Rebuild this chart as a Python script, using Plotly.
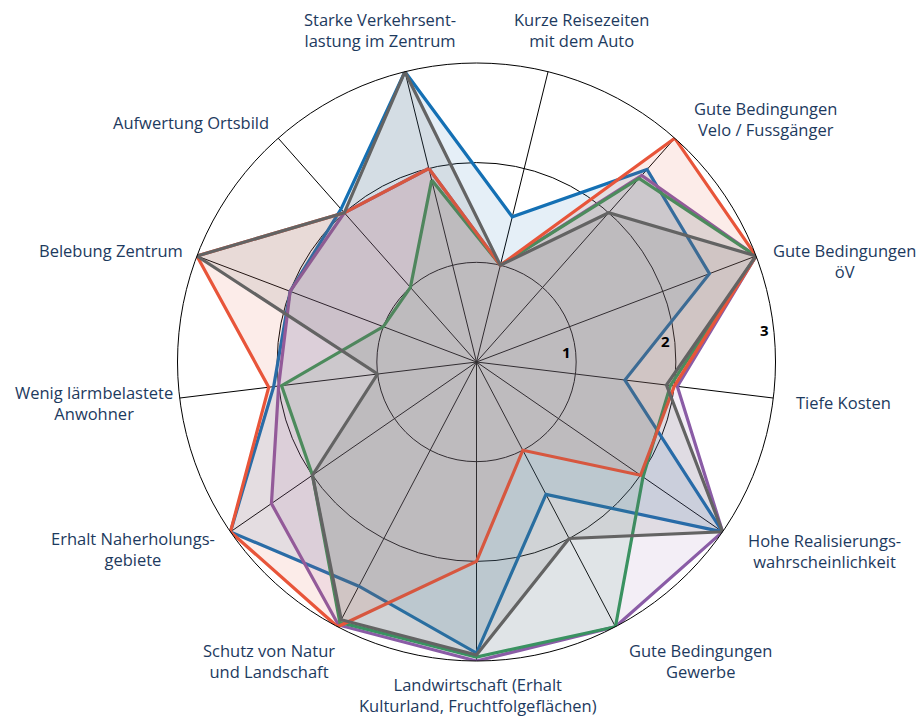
import math
import plotly.graph_objects as go

categories = [
    "Starke Verkehrsent-<br>lastung im Zentrum",
    "Kurze Reisezeiten<br>mit dem Auto",
    "Gute Bedingungen<br>Velo / Fussgänger",
    "Gute Bedingungen<br>öV",
    "Tiefe Kosten",
    "Hohe Realisierungs-<br>wahrscheinlichkeit",
    "Gute Bedingungen<br>Gewerbe",
    "Landwirtschaft (Erhalt<br>Kulturland, Fruchtfolgeflächen)",
    "Schutz von Natur<br>und Landschaft",
    "Erhalt Naherholungs-<br>gebiete",
    "Wenig lärmbelastete<br>Anwohner",
    "Belebung Zentrum",
    "Aufwertung Ortsbild",
]

variant_blue = [3.0, 1.5, 2.58, 2.5, 1.5, 3.0, 1.5, 2.92, 2.54, 3.0, 2.05, 2.0, 2.05]
variant_purple = [2.0, 1.0, 2.5, 3.0, 2.03, 3.0, 3.0, 3.0, 2.98, 2.5, 2.0, 2.0, 2.0]
variant_green = [1.88, 1.0, 2.46, 3.0, 1.96, 2.03, 3.0, 2.96, 2.95, 2.0, 1.97, 1.0, 1.0]
variant_orange = [2.0, 1.0, 3.0, 3.0, 2.0, 2.0, 1.0, 2.0, 3.0, 3.0, 2.1, 3.0, 2.0]
variant_gray = [3.0, 1.0, 2.0, 3.0, 1.92, 3.0, 2.0, 2.94, 2.92, 2.0, 1.0, 3.0, 2.0]

radial_ticks = [1, 2, 3]
radial_ticktext = ["1", "2", "3"]
radial_max = 3

series = [
    ("blue", variant_blue, "#1470b4", "rgba(20,112,180,0.11)"),
    ("purple", variant_purple, "#8a5ca6", "rgba(138,92,166,0.10)"),
    ("green", variant_green, "#3a9261", "rgba(58,146,97,0.10)"),
    ("orange", variant_orange, "#e8553a", "rgba(232,85,58,0.11)"),
    ("gray", variant_gray, "#636363", "rgba(99,99,99,0.13)"),
]

fig = go.Figure()
for name, vals, col, fillcol in series:
    fig.add_trace(go.Scatterpolar(
        r=vals + [vals[0]],
        theta=categories + [categories[0]],
        mode="lines",
        name=name,
        line=dict(color=col, width=3.2),
        fill="toself",
        fillcolor=fillcol,
        showlegend=False,
        hoverinfo="skip",
    ))

W, H = 920, 716
cx, cy, R = 476.5, 362, 299
LABEL_FONT = dict(family="Open Sans, sans-serif", size=16.5, color="#1d3a5e")

# category label placement (pixel centres in the 920x716 canvas)
label_pos = [
    (380, 30), (581, 30), (765, 119), (844, 261), (843, 402), (824, 551),
    (700, 661), (478, 695), (269, 661), (133, 549), (94, 403), (111, 250), (191, 123),
]
annotations = []
for cat, (px, py) in zip(categories, label_pos):
    annotations.append(dict(
        text=cat, x=px / W, y=1 - py / H, xref="paper", yref="paper",
        xanchor="center", yanchor="middle", align="center", showarrow=False,
        font=LABEL_FONT,
    ))

# radial tick labels along a line at 6.4 degrees, just inside each ring
tick_angle = math.radians(6.4)
for v, t in zip(radial_ticks, radial_ticktext):
    rr = v * R / radial_max - 9
    px = cx + rr * math.cos(tick_angle)
    py = cy - rr * math.sin(tick_angle)
    annotations.append(dict(
        text=t, x=px / W, y=1 - py / H, xref="paper", yref="paper",
        xanchor="center", yanchor="middle", showarrow=False,
        font=dict(family="Open Sans, sans-serif", size=15, color="black", weight="bold"),
    ))

fig.update_layout(
    width=W, height=H,
    margin=dict(l=0, r=0, t=0, b=0),
    paper_bgcolor="white",
    annotations=annotations,
    polar=dict(
        domain=dict(x=[(cx - R) / W, (cx + R) / W], y=[1 - (cy + R) / H, 1 - (cy - R) / H]),
        bgcolor="white",
        radialaxis=dict(
            range=[0, radial_max], tickvals=radial_ticks, ticktext=radial_ticktext,
            showticklabels=False, showline=False, ticks="",
            showgrid=True, gridcolor="black", gridwidth=1,
        ),
        angularaxis=dict(
            direction="clockwise", rotation=90 + 180 / 13,
            showticklabels=False, ticks="",
            showgrid=True, gridcolor="black", gridwidth=1,
            showline=True, linecolor="black", linewidth=1,
        ),
    ),
)

fig.write_html(
    "out.html",
    config={"displayModeBar": False},
    post_script="document.body.style.margin='0';document.body.style.padding='0';",
)
